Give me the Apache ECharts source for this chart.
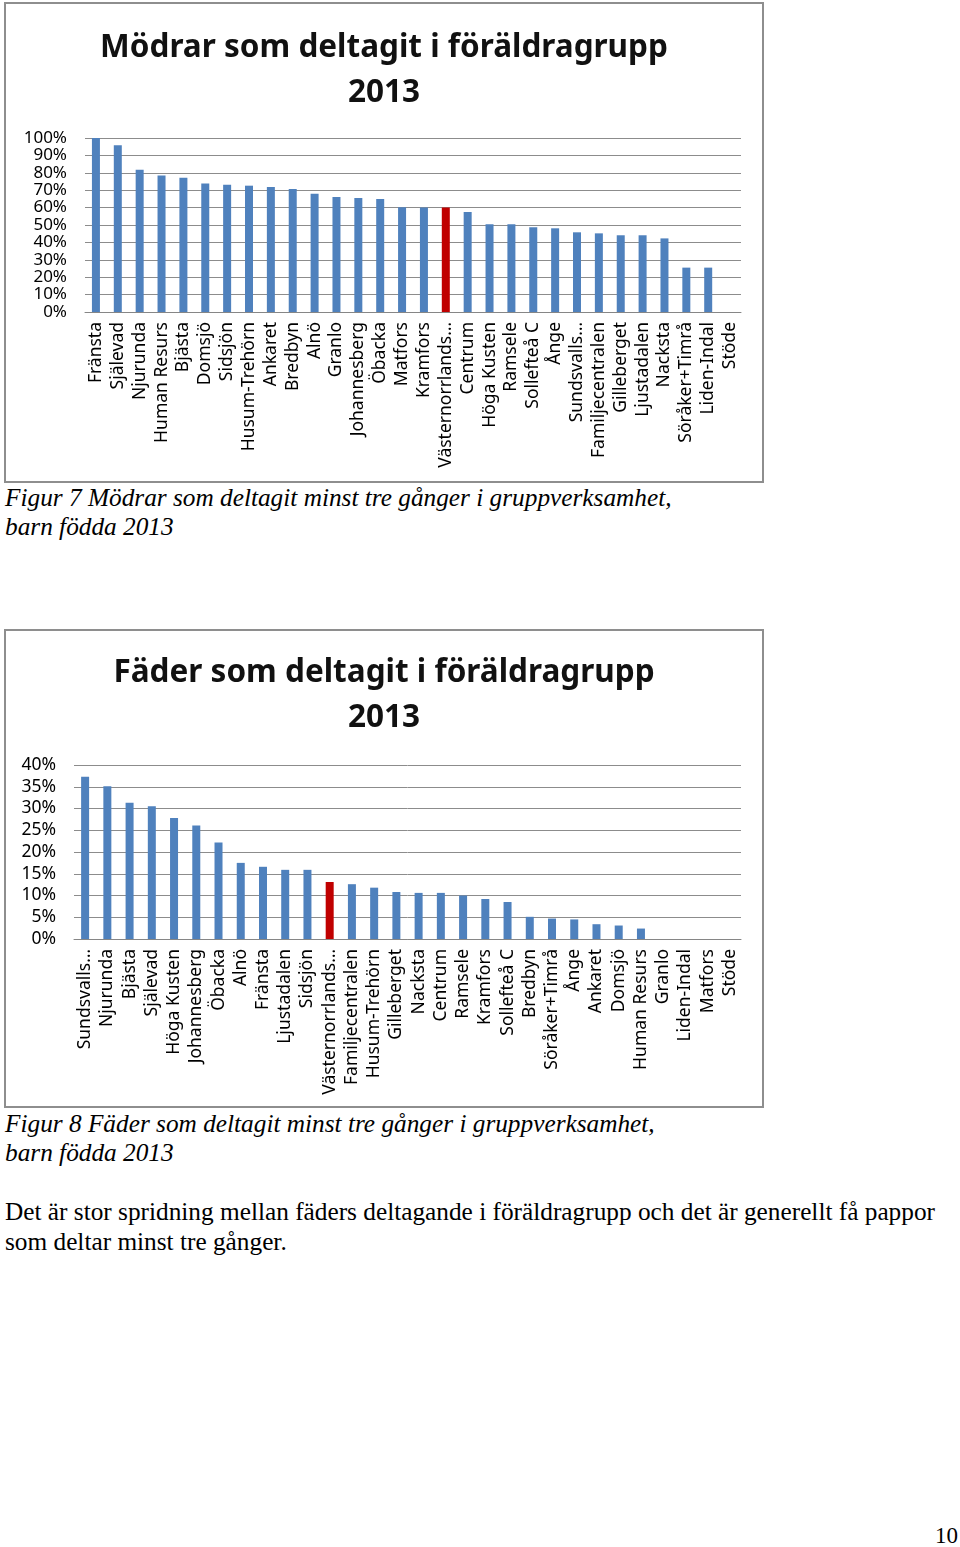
<!DOCTYPE html>
<html><head><meta charset="utf-8">
<script src="https://cdn.jsdelivr.net/npm/echarts@6/dist/echarts.min.js"></script>
<style>
html,body{margin:0;padding:0;background:#fff;width:960px;height:1547px;overflow:hidden;position:relative}
.frame{position:absolute;left:4px;width:756px;border:2px solid #8e8e8e;box-sizing:content-box}
.cap{position:absolute;left:5px;font-family:"Liberation Serif","Times New Roman",serif;font-style:italic;font-size:25.3px;line-height:29px;color:#000;white-space:nowrap}
.body{position:absolute;left:5px;font-family:"Liberation Serif","Times New Roman",serif;font-size:25.3px;line-height:30px;color:#000;white-space:nowrap}
</style></head>
<body>
<div id="c1" class="frame" style="top:2px;height:477px"></div>
<div id="c2" class="frame" style="top:629px;height:475px"></div>
<div class="cap" style="top:483px">Figur 7 Mödrar som deltagit minst tre gånger i gruppverksamhet,<br>barn födda 2013</div>
<div class="cap" style="top:1109px">Figur 8 Fäder som deltagit minst tre gånger i gruppverksamhet,<br>barn födda 2013</div>
<div class="body" style="top:1196px">Det är stor spridning mellan fäders deltagande i föräldragrupp och det är generellt få pappor<br>som deltar minst tre gånger.</div>
<div class="body" style="top:1521px;left:935px;font-size:23px">10</div>
<script>
// Chart 1: mothers
const mothersTitle = "Mödrar som deltagit i föräldragrupp\n2013";
const mothersCategories = ["Fränsta","Själevad","Njurunda","Human Resurs","Bjästa","Domsjö","Sidsjön","Husum-Trehörn","Ankaret","Bredbyn","Alnö","Granlo","Johannesberg","Öbacka","Matfors","Kramfors","Västernorrlands…","Centrum","Höga Kusten","Ramsele","Sollefteå C","Ånge","Sundsvalls…","Familjecentralen","Gilleberget","Ljustadalen","Nacksta","Söråker+Timrå","Liden-Indal","Stöde"];
const mothersValues = [100,95.8,81.8,78.4,77.2,73.8,73.2,72.6,71.8,70.7,68,66.1,65.5,64.9,60.2,60,60,57.5,50.4,50.4,48.7,48.1,45.8,45.2,44.1,44.1,42.3,25.5,25.5,0];
const mothersTicks = [0,10,20,30,40,50,60,70,80,90,100];

// Chart 2: fathers
const fathersTitle = "Fäder som deltagit i föräldragrupp\n2013";
const fathersCategories = ["Sundsvalls…","Njurunda","Bjästa","Själevad","Höga Kusten","Johannesberg","Öbacka","Alnö","Fränsta","Ljustadalen","Sidsjön","Västernorrlands…","Familjecentralen","Husum-Trehörn","Gilleberget","Nacksta","Centrum","Ramsele","Kramfors","Sollefteå C","Bredbyn","Söråker+Timrå","Ånge","Ankaret","Domsjö","Human Resurs","Granlo","Liden-Indal","Matfors","Stöde"];
const fathersValues = [37.3,35.1,31.3,30.5,27.8,26.1,22.2,17.5,16.6,15.9,15.9,13.1,12.6,11.8,10.8,10.6,10.6,10.0,9.2,8.5,5.1,4.7,4.5,3.4,3.1,2.4,0,0,0,0];
const fathersTicks = [0,5,10,15,20,25,30,35,40];

const highlightCategory = "Västernorrlands…";
const barColor = "#4F81BD";
const highlightColor = "#C00000";

function makeOption(title, cats, vals, ticks, grid, titleTop, yFont){
  const step = ticks[1]-ticks[0];
  return {
    animation:false,
    title:{text:title,left:'center',top:titleTop,textStyle:{fontFamily:'Noto Sans',fontWeight:'bold',fontSize:31.5,lineHeight:45,color:'#111'}},
    grid:grid,
    xAxis:{type:'category',data:cats,
      axisLine:{lineStyle:{color:'#868686',width:1}},
      axisTick:{show:false},
      axisLabel:{interval:0,rotate:90,margin:10,fontFamily:'Noto Sans',fontSize:17.5,color:'#000'}},
    yAxis:{type:'value',min:ticks[0],max:ticks[ticks.length-1],interval:step,
      axisLine:{show:false},axisTick:{show:false},
      splitLine:{lineStyle:{color:'#8c8c8c',width:1}},
      axisLabel:{formatter:'{value}%',margin:18,fontFamily:'Noto Sans',fontSize:yFont,color:'#000',
        showMinLabel:true,showMaxLabel:true,hideOverlap:false}},
    series:[{type:'bar',barWidth:8,
      data:vals.map((v,i)=>({value:v,itemStyle:{color:cats[i]===highlightCategory?highlightColor:barColor}}))}]
  };
}
const c1 = echarts.init(document.getElementById('c1'),null,{renderer:'canvas'});
c1.setOption(makeOption(mothersTitle,mothersCategories,mothersValues,mothersTicks,{left:79,right:21,top:134,bottom:169},17,17));
const c2 = echarts.init(document.getElementById('c2'),null,{renderer:'canvas'});
c2.setOption(makeOption(fathersTitle,fathersCategories,fathersValues,fathersTicks,{left:68,right:21,top:134,bottom:167},15,17.5));
</script>
</body></html>
